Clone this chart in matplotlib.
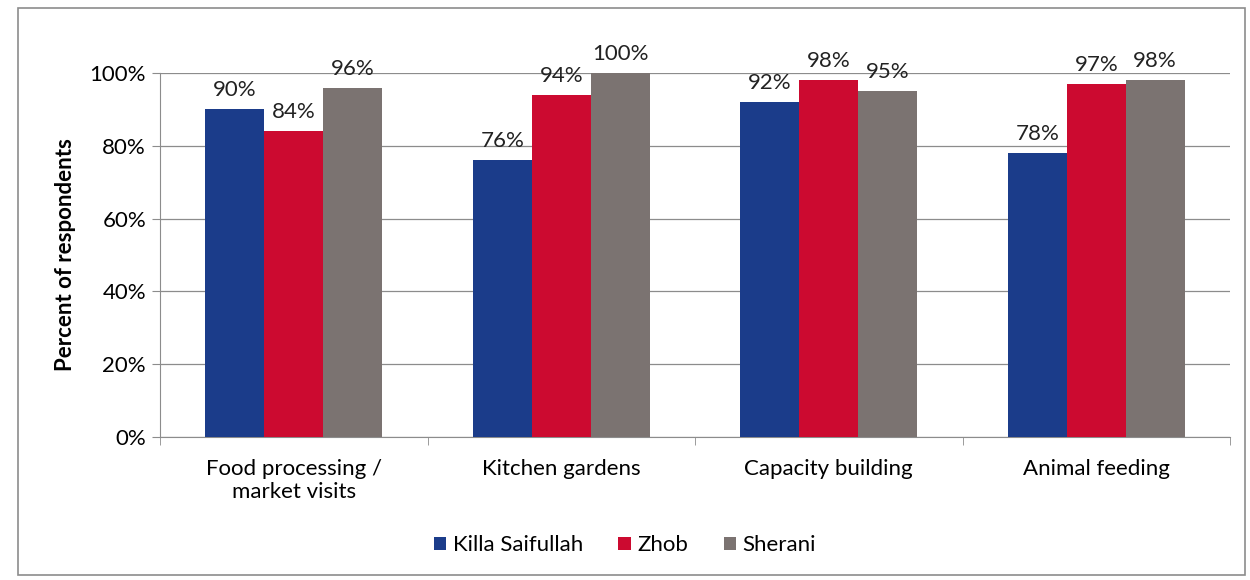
import numpy as np
import matplotlib.pyplot as plt
from matplotlib.patches import Rectangle

plt.rcParams['font.family'] = ['Lato', 'DejaVu Sans']

categories = ['Food processing /\nmarket visits', 'Kitchen gardens', 'Capacity building', 'Animal feeding']
killa = [90, 76, 92, 78]
zhob = [84, 94, 98, 97]
sherani = [96, 100, 95, 98]
series = [('Killa Saifullah', killa, '#1b3c8a'),
          ('Zhob', zhob, '#cc0a30'),
          ('Sherani', sherani, '#7b7371')]

fig = plt.figure(figsize=(12.5, 5.8), dpi=100)
ax = fig.add_axes([0.128, 0.247, 0.856, 0.627])

x = np.arange(len(categories))
w = 0.22
for i, (name, vals, col) in enumerate(series):
    pos = x + (i - 1) * w
    bars = ax.bar(pos, vals, w, color=col, label=name, zorder=3)
    for b, v in zip(bars, vals):
        ax.text(b.get_x() + b.get_width() / 2, v + 2.5, f'{v}%', ha='center', va='bottom',
                fontsize=16, color='#222222')

ax.set_xlim(-0.5, len(categories) - 0.5)
ax.set_ylim(0, 100)
ax.set_yticks(range(0, 101, 20))
ax.set_yticklabels([f'{t}%' for t in range(0, 101, 20)], fontsize=16)
ax.yaxis.grid(True, color='#8c8c8c', linewidth=0.9, zorder=0)
ax.set_xticks(x)
ax.set_xticklabels(categories, fontsize=16)
ax.tick_params(axis='x', length=0, pad=16)
ax.set_xticks(np.arange(-0.5, len(categories)), minor=True)
ax.tick_params(axis='x', which='minor', length=6, color='#8c8c8c')
ax.tick_params(axis='y', length=6, color='#8c8c8c', pad=4)
for s in ['top', 'right']:
    ax.spines[s].set_visible(False)
ax.spines['left'].set_color('#8c8c8c')
ax.spines['bottom'].set_color('#8c8c8c')
ax.set_ylabel('Percent of respondents', fontsize=16, fontweight='bold', labelpad=10)

ax.legend(loc='center', bbox_to_anchor=(0.5, 0.06), bbox_transform=fig.transFigure,
          ncol=3, frameon=False, fontsize=16, handlelength=0.55, handleheight=0.55,
          handletextpad=0.3, columnspacing=1.6)

fig.patches.append(Rectangle((0.014, 0.008), 0.982, 0.978, transform=fig.transFigure,
                             fill=False, edgecolor='#8c8c8c', linewidth=1.2))

fig.savefig('out.png', dpi=100)
